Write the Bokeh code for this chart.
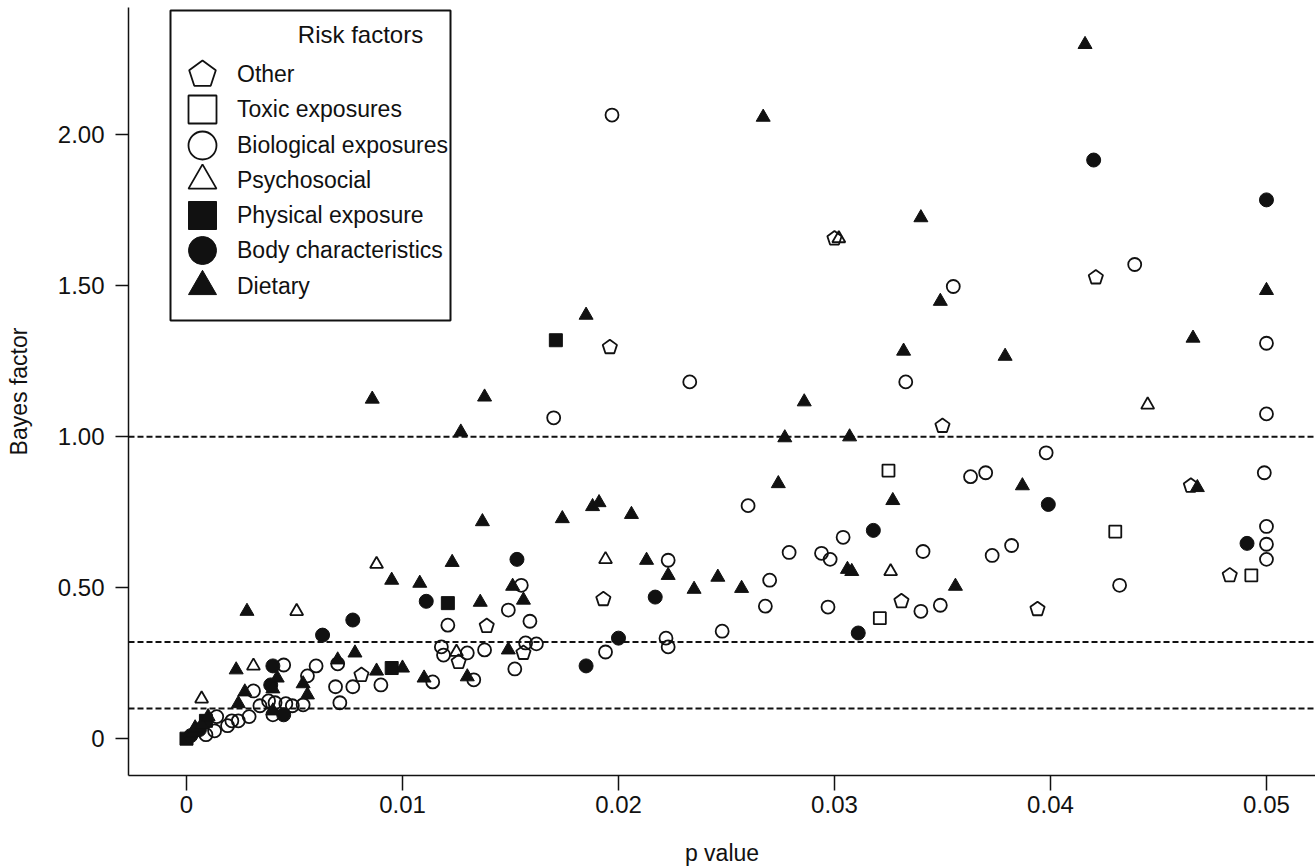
from bokeh.plotting import figure
from bokeh.models import Range1d, FixedTicker, Span, Legend, LegendItem, Label, BoxAnnotation
from bokeh.embed import file_html
from bokeh.resources import INLINE

# ---------------- data ----------------
categories = ["Other", "Toxic exposures", "Biological exposures", "Psychosocial",
              "Physical exposure", "Body characteristics", "Dietary"]

other_p = [0.0421, 0.0196, 0.0300, 0.0350, 0.0465, 0.0483, 0.0394, 0.0331,
           0.0193, 0.0139, 0.0126, 0.0156, 0.0081]
other_bf = [1.528, 1.297, 1.657, 1.036, 0.838, 0.541, 0.429, 0.455,
            0.462, 0.373, 0.254, 0.284, 0.211]

toxic_p = [0.0325, 0.0430, 0.0493, 0.0321]
toxic_bf = [0.888, 0.686, 0.541, 0.399]

bio_p = [0.0197, 0.0439, 0.0355, 0.0500, 0.0233, 0.0333, 0.0170, 0.0500, 0.0398,
         0.0363, 0.0370, 0.0499, 0.0260, 0.0500, 0.0304, 0.0500, 0.0500, 0.0279,
         0.0294, 0.0298, 0.0341, 0.0373, 0.0382, 0.0223, 0.0270, 0.0432, 0.0268,
         0.0297, 0.0340, 0.0349, 0.0248, 0.0222, 0.0223, 0.0155, 0.0149, 0.0121,
         0.0159, 0.0118, 0.0119, 0.0130, 0.0138, 0.0157, 0.0162, 0.0152, 0.0194,
         0.0114, 0.0133, 0.0090, 0.0077, 0.0069, 0.0071, 0.0070, 0.0060, 0.0056,
         0.0054, 0.0045, 0.0031, 0.0034, 0.0038, 0.0041, 0.0046, 0.0049, 0.0040,
         0.0029, 0.0024, 0.0021, 0.0019, 0.0014, 0.0013, 0.0009]
bio_bf = [2.066, 1.571, 1.498, 1.310, 1.182, 1.182, 1.063, 1.076, 0.947,
          0.868, 0.881, 0.881, 0.772, 0.703, 0.667, 0.644, 0.594, 0.617,
          0.614, 0.594, 0.620, 0.607, 0.640, 0.591, 0.525, 0.508, 0.439,
          0.436, 0.422, 0.442, 0.356, 0.333, 0.304, 0.508, 0.426, 0.376,
          0.389, 0.304, 0.277, 0.284, 0.294, 0.317, 0.314, 0.231, 0.287,
          0.188, 0.195, 0.178, 0.172, 0.172, 0.119, 0.248, 0.241, 0.208,
          0.112, 0.244, 0.158, 0.109, 0.125, 0.119, 0.116, 0.109, 0.079,
          0.073, 0.059, 0.059, 0.043, 0.073, 0.026, 0.013]

psych_p = [0.0302, 0.0445, 0.0326, 0.0194, 0.0088, 0.0051, 0.0125, 0.0031, 0.0007]
psych_bf = [1.657, 1.106, 0.554, 0.594, 0.578, 0.422, 0.287, 0.241, 0.132]

phys_p = [0.0171, 0.0121, 0.0095, 0.0000, 0.0009]
phys_bf = [1.320, 0.449, 0.234, 0.000, 0.059]

body_p = [0.0420, 0.0500, 0.0399, 0.0318, 0.0491, 0.0311, 0.0153, 0.0111, 0.0217,
          0.0200, 0.0185, 0.0077, 0.0063, 0.0040, 0.0039, 0.0045, 0.0006, 0.0002]
body_bf = [1.917, 1.785, 0.776, 0.690, 0.647, 0.350, 0.594, 0.455, 0.469,
           0.333, 0.241, 0.393, 0.343, 0.241, 0.178, 0.079, 0.030, 0.010]

diet_p = [0.0416, 0.0267, 0.0340, 0.0349, 0.0500, 0.0185, 0.0332, 0.0379, 0.0466,
          0.0138, 0.0286, 0.0127, 0.0277, 0.0307, 0.0086, 0.0274, 0.0387, 0.0468,
          0.0327, 0.0137, 0.0174, 0.0188, 0.0191, 0.0206, 0.0213, 0.0223, 0.0246,
          0.0257, 0.0235, 0.0306, 0.0308, 0.0356, 0.0095, 0.0108, 0.0123, 0.0136,
          0.0151, 0.0156, 0.0149, 0.0100, 0.0110, 0.0130, 0.0028, 0.0078, 0.0070,
          0.0088, 0.0023, 0.0027, 0.0024, 0.0042, 0.0040, 0.0054, 0.0056, 0.0040,
          0.0003, 0.0004, 0.0007, 0.0010]
diet_bf = [2.300, 2.059, 1.726, 1.449, 1.485, 1.403, 1.284, 1.267, 1.327,
           1.132, 1.116, 1.016, 0.997, 1.000, 1.125, 0.845, 0.838, 0.832,
           0.789, 0.719, 0.729, 0.769, 0.782, 0.743, 0.591, 0.541, 0.535,
           0.498, 0.495, 0.561, 0.554, 0.505, 0.525, 0.515, 0.584, 0.452,
           0.505, 0.459, 0.294, 0.234, 0.201, 0.205, 0.422, 0.284, 0.261,
           0.224, 0.228, 0.155, 0.116, 0.201, 0.165, 0.182, 0.145, 0.092,
           0.020, 0.036, 0.046, 0.073]

thresholds = [1.0, 0.32, 0.1]

x_ticks = [0, 0.01, 0.02, 0.03, 0.04, 0.05]
x_tick_labels = ["0", "0.01", "0.02", "0.03", "0.04", "0.05"]
y_ticks = [0, 0.5, 1, 1.5, 2]
y_tick_labels = ["0", "0.50", "1.00", "1.50", "2.00"]

legend_title = "Risk factors"

FONT = "Liberation Sans"
INK = "#111111"

# ---------------- figure ----------------
p = figure(width=1315, height=868, output_backend="svg", toolbar_location=None,
           x_range=Range1d(-0.002685, 0.05227), y_range=Range1d(-0.1221, 2.4224),
           min_border_left=128, min_border_right=0, min_border_top=7,
           min_border_bottom=90)
p.outline_line_color = None
p.xgrid.visible = False
p.ygrid.visible = False

for v in thresholds:
    p.add_layout(Span(location=v, dimension="width", line_color=INK,
                      line_width=2, line_dash="6 3"))

open_style = dict(fill_color=None, line_color=INK, line_width=1.8)
fill_style = dict(fill_color=INK, line_color=INK, line_width=1)

r_other = p.ngon(x=other_p, y=other_bf, radius=7.5, radius_units="screen", n=5,
                 angle=0, **open_style)
r_toxic = p.scatter(toxic_p, toxic_bf, marker="square", size=12, **open_style)
r_bio = p.scatter(bio_p, bio_bf, marker="circle", size=13, **open_style)
r_psych = p.scatter(psych_p, psych_bf, marker="triangle", size=13, **open_style)
r_phys = p.scatter(phys_p, phys_bf, marker="square", size=13, **fill_style)
r_body = p.scatter(body_p, body_bf, marker="circle", size=14, **fill_style)
r_diet = p.scatter(diet_p, diet_bf, marker="triangle", size=14, **fill_style)

renderers = [r_other, r_toxic, r_bio, r_psych, r_phys, r_body, r_diet]

# axes
for ax in (p.xaxis[0], p.yaxis[0]):
    ax.axis_line_color = INK
    ax.axis_line_width = 1.5
    ax.major_tick_line_color = INK
    ax.major_tick_line_width = 1.5
    ax.minor_tick_line_color = None
    ax.major_tick_in = 0
    ax.major_label_text_font = FONT
    ax.major_label_text_font_size = "24px"
    ax.major_label_text_color = INK
    ax.axis_label_text_font = FONT
    ax.axis_label_text_font_size = "23px"
    ax.axis_label_text_font_style = "normal"
    ax.axis_label_text_color = INK

p.xaxis.ticker = FixedTicker(ticks=x_ticks)
p.xaxis.major_label_overrides = dict(zip(x_ticks, x_tick_labels))
p.xaxis.major_tick_out = 15
p.xaxis.major_label_standoff = 5
p.xaxis.axis_label = "p value"
p.xaxis.axis_label_standoff = 24

p.yaxis.ticker = FixedTicker(ticks=y_ticks)
p.yaxis.major_label_overrides = dict(zip(y_ticks, y_tick_labels))
p.yaxis.major_tick_out = 13
p.yaxis.major_label_standoff = 11
p.yaxis.axis_label = "Bayes factor"
p.yaxis.axis_label_standoff = 23

# legend: framed box, title, and one row per risk factor (big symbols)
p.add_layout(BoxAnnotation(left=42, right=322, top=765, bottom=455,
                           left_units="screen", right_units="screen",
                           top_units="screen", bottom_units="screen",
                           fill_color="white", fill_alpha=1.0,
                           line_color=INK, line_width=2, line_alpha=1.0))

p.add_layout(Label(x=232, y=741, x_units="screen", y_units="screen", text=legend_title,
                   text_font=FONT, text_font_size="24px", text_color=INK,
                   text_align="center", text_baseline="middle"))

row_top = 778 - 77      # centre of first legend row, in frame pixels from bottom
row_pitch = 35.3
for i, (c, r) in enumerate(zip(categories, renderers)):
    centre = row_top - i * row_pitch
    lg = Legend(items=[LegendItem(label=c, renderers=[r])],
                location=(39, int(round(centre - 35))),
                padding=0, spacing=0, glyph_height=70, glyph_width=70,
                label_height=70, label_standoff=-8, label_text_font=FONT,
                label_text_font_size="23px", label_text_color=INK,
                border_line_color=None, background_fill_alpha=0.0)
    p.add_layout(lg, "center")

open("out.html", "w").write(file_html(p, INLINE))
